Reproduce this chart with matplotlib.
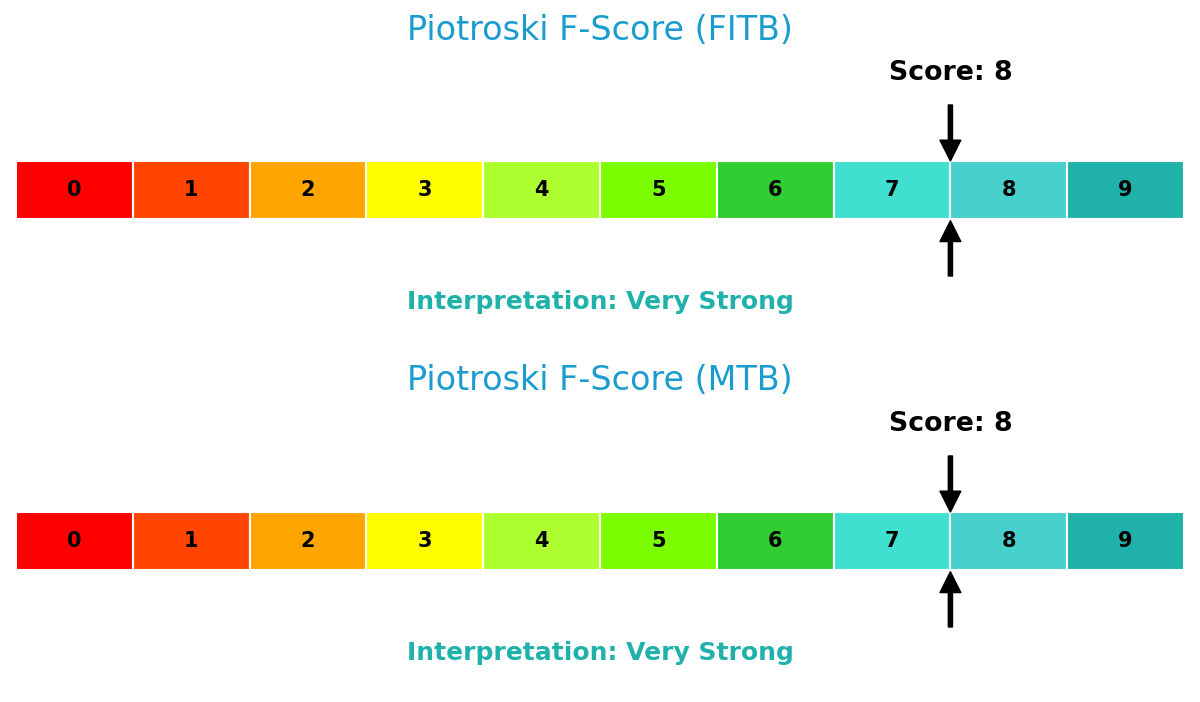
import matplotlib
matplotlib.use("Agg")
import matplotlib.pyplot as plt

plt.rcParams['font.family'] = ['DejaVu Sans']

# score bands 0..9 and their colours
scores = [0, 1, 2, 3, 4, 5, 6, 7, 8, 9]
colors = ['#FF0000', '#FF4500', '#FFA500', '#FFFF00', '#ADFF2F',
          '#7CFC00', '#32CD32', '#40E0D0', '#48D1CC', '#20B2AA']

tickers = ['FITB', 'MTB']
values = [8, 8]
interpretations = ['Very Strong', 'Very Strong']

W, H = 1200, 702
fig = plt.figure(figsize=(W / 100, H / 100), dpi=100)

title_color = '#1a9ccf'
interp_color = '#20B2AA'

for k, (tk, val, interp) in enumerate(zip(tickers, values, interpretations)):
    off = k * 351
    # axes spans 50..330 px (from top) of each panel
    bottom = 1 - (330 + off) / H
    ax = fig.add_axes([16 / W, bottom, 1168 / W, 280 / H])
    ax.set_xlim(0, 10)
    ax.set_ylim(-1.914, 2.914)
    ax.axis('off')

    ax.bar(scores, 1, width=1, bottom=0, align='edge', color=colors,
           edgecolor='white', linewidth=1.5)
    for s in scores:
        ax.text(s + 0.5, 0.5, str(s), ha='center', va='center',
                fontsize=15, fontweight='bold', color='black')

    ax.annotate('', xy=(val, 1.0), xytext=(val, 1.966),
                arrowprops=dict(facecolor='black', edgecolor='black',
                                width=3, headwidth=15, headlength=15, shrink=0))
    ax.annotate('', xy=(val, -0.03), xytext=(val, -0.983),
                arrowprops=dict(facecolor='black', edgecolor='black',
                                width=3, headwidth=15, headlength=15, shrink=0))

    ax.text(val, 2.517, f'Score: {val}', ha='center', va='center',
            fontsize=19.3, fontweight='bold', color='black')
    ax.text(5, -1.431, f'Interpretation: {interp}', ha='center', va='center',
            fontsize=18, fontweight='bold', color=interp_color)

    fig.text(0.5, 1 - (30 + off) / H, f'Piotroski F-Score ({tk})',
             ha='center', va='center', fontsize=24, color=title_color)

fig.savefig('out.png', dpi=100, facecolor='white')
